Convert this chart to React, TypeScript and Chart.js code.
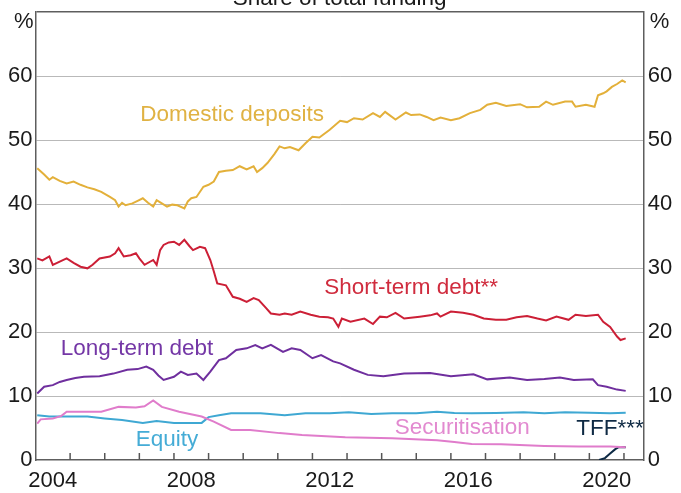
import React, { useEffect, useRef } from "react";
import { Chart, registerables } from "chart.js";

Chart.register(...registerables);

// ---------- DATA (decimal years, per cent of total funding) ----------
const depositsDates = [2004.05,2004.25,2004.4,2004.5,2004.7,2004.9,2005.1,2005.3,2005.5,2005.7,2005.9,2006.15,2006.3,2006.4,2006.5,2006.6,2006.8,2006.95,2007.1,2007.25,2007.4,2007.5,2007.65,2007.8,2007.95,2008.1,2008.3,2008.4,2008.5,2008.65,2008.85,2009.0,2009.15,2009.3,2009.5,2009.7,2009.9,2010.1,2010.3,2010.4,2010.55,2010.7,2010.9,2011.05,2011.2,2011.35,2011.6,2011.8,2012.0,2012.2,2012.5,2012.8,2013.0,2013.2,2013.45,2013.75,2013.95,2014.1,2014.4,2014.7,2014.85,2015.1,2015.3,2015.5,2015.7,2016.0,2016.25,2016.55,2016.85,2017.05,2017.3,2017.6,2018.0,2018.2,2018.55,2018.75,2018.95,2019.3,2019.5,2019.6,2019.9,2020.15,2020.25,2020.4,2020.5,2020.65,2020.8,2020.95,2021.05];
const depositsValues = [45.6,44.6,43.8,44.2,43.6,43.2,43.5,43.0,42.6,42.3,41.9,41.1,40.6,39.6,40.2,39.8,40.1,40.5,40.9,40.2,39.6,40.6,40.1,39.6,39.9,39.8,39.3,40.4,40.9,41.1,42.7,43.0,43.5,45.0,45.2,45.3,45.9,45.4,45.9,45.0,45.6,46.4,47.8,49.0,48.7,48.9,48.4,49.5,50.5,50.4,51.6,53.0,52.8,53.4,53.2,54.2,53.6,54.4,53.2,54.3,53.9,54.0,53.6,53.1,53.5,53.1,53.4,54.2,54.7,55.5,55.8,55.3,55.6,55.1,55.2,56.0,55.5,56.0,56.0,55.2,55.5,55.2,57.0,57.3,57.6,58.3,58.75,59.3,59.0];

const shortDates = [2004.05,2004.2,2004.4,2004.5,2004.7,2004.9,2005.1,2005.3,2005.5,2005.65,2005.85,2006.15,2006.3,2006.4,2006.55,2006.75,2006.9,2007.0,2007.15,2007.4,2007.5,2007.6,2007.7,2007.85,2008.0,2008.15,2008.3,2008.45,2008.55,2008.75,2008.9,2009.05,2009.15,2009.25,2009.5,2009.7,2009.9,2010.1,2010.3,2010.45,2010.65,2010.8,2011.05,2011.2,2011.4,2011.65,2011.95,2012.2,2012.45,2012.6,2012.75,2012.85,2013.1,2013.5,2013.75,2013.95,2014.15,2014.4,2014.65,2015.1,2015.4,2015.6,2015.7,2016.0,2016.35,2016.65,2016.95,2017.3,2017.6,2017.9,2018.2,2018.5,2018.75,2019.05,2019.4,2019.6,2019.9,2020.25,2020.4,2020.6,2020.8,2020.9,2021.05];
const shortValues = [31.5,31.2,31.8,30.5,31.0,31.5,30.8,30.2,29.95,30.5,31.5,31.8,32.3,33.1,31.8,32.0,32.3,31.5,30.5,31.25,30.5,32.8,33.6,34.0,34.1,33.6,34.4,33.4,32.8,33.3,33.1,31.25,29.5,27.6,27.3,25.5,25.2,24.7,25.3,25.0,23.8,22.9,22.7,22.9,22.7,23.2,22.7,22.4,22.3,22.1,20.8,22.1,21.6,22.1,21.25,22.4,22.3,23.0,22.1,22.4,22.6,22.9,22.4,23.2,23.0,22.7,22.1,21.9,21.9,22.3,22.5,22.1,21.8,22.4,21.9,22.7,22.5,22.7,21.6,20.8,19.3,18.75,19.0];

const longDates = [2004.05,2004.25,2004.5,2004.7,2004.9,2005.15,2005.4,2005.85,2006.25,2006.65,2006.95,2007.2,2007.4,2007.55,2007.7,2008.0,2008.2,2008.4,2008.65,2008.85,2009.05,2009.3,2009.5,2009.8,2010.1,2010.35,2010.55,2010.8,2011.15,2011.4,2011.65,2012.0,2012.25,2012.6,2012.8,2013.2,2013.6,2014.05,2014.65,2015.4,2016.0,2016.65,2017.05,2017.7,2018.2,2018.7,2019.15,2019.55,2020.1,2020.25,2020.5,2020.8,2021.05];
const longValues = [10.4,11.45,11.7,12.2,12.5,12.8,13.0,13.1,13.5,14.1,14.2,14.6,14.1,13.2,12.5,13.0,13.8,13.3,13.5,12.5,13.8,15.6,15.9,17.2,17.45,17.97,17.45,18.0,16.9,17.45,17.2,15.9,16.4,15.4,15.1,14.1,13.3,13.1,13.5,13.6,13.1,13.4,12.6,12.9,12.5,12.65,12.9,12.5,12.6,11.7,11.45,11.0,10.8];

const equityDates = [2004.05,2004.4,2004.9,2005.5,2006.0,2006.5,2007.1,2007.5,2008.0,2008.5,2008.8,2009.0,2009.3,2009.65,2010.5,2011.2,2011.8,2012.5,2013.05,2013.7,2014.3,2015.0,2015.6,2016.1,2016.6,2017.3,2018.1,2018.7,2019.3,2020.0,2020.6,2021.05];
const equityValues = [7.0,6.8,6.8,6.8,6.5,6.25,5.8,6.1,5.8,5.8,5.8,6.7,7.0,7.3,7.3,7.0,7.3,7.3,7.45,7.2,7.3,7.3,7.55,7.35,7.3,7.35,7.45,7.3,7.45,7.4,7.3,7.4];

const securDates = [2004.05,2004.15,2004.5,2004.75,2004.9,2005.4,2005.9,2006.4,2006.9,2007.15,2007.4,2007.65,2008.15,2008.8,2009.15,2009.65,2010.2,2011.05,2011.7,2012.95,2014.3,2015.6,2016.1,2016.6,2017.45,2018.7,2019.7,2020.6,2021.05];
const securValues = [5.7,6.35,6.5,6.9,7.55,7.55,7.55,8.3,8.2,8.4,9.3,8.3,7.55,6.8,6.0,4.7,4.7,4.2,3.9,3.55,3.4,3.1,2.8,2.5,2.45,2.2,2.1,2.1,2.0];

const tffDates = [2020.28,2020.45,2020.6,2020.75,2020.85,2021.05];
const tffValues = [0,0.3,1.0,1.7,2.0,2.0];

const yearLabels = [2004, 2008, 2012, 2016, 2020];
const minorTickYears = [2005,2006,2007,2008,2009,2010,2011,2012,2013,2014,2015,2016,2017,2018,2019,2020,2021];

const seriesLabels = [
  { text: "Domestic deposits", x: 2009.68, y: 53.9, color: "#e0b243" },
  { text: "Short-term debt**", x: 2014.85, y: 26.9, color: "#d02c3e" },
  { text: "Long-term debt", x: 2006.93, y: 17.3, color: "#7437a6" },
  { text: "Equity", x: 2007.8, y: 3.1, color: "#45acd6" },
  { text: "Securitisation", x: 2016.33, y: 5.0, color: "#e28ad0" },
  { text: "TFF***", x: 2020.6, y: 4.85, color: "#0f2a44" },
];

const FONT = '"Liberation Sans", Arial, sans-serif';

const toPts = (d: number[], v: number[]) => d.map((x, i) => ({ x, y: v[i] }));

const overlay = {
  id: "overlay",
  afterDraw(chart: any) {
    const { ctx, chartArea, scales } = chart;
    const xs = scales.x;
    const ys = scales.y;
    ctx.save();
    // minor year ticks, pointing into the plot
    ctx.strokeStyle = "#555";
    ctx.lineWidth = 1.5;
    minorTickYears.forEach((yr) => {
      const px = xs.getPixelForValue(yr);
      ctx.beginPath();
      ctx.moveTo(px, chartArea.bottom);
      ctx.lineTo(px, chartArea.bottom - 7);
      ctx.stroke();
    });
    // title (partly cut at top)
    ctx.fillStyle = "#1a1a1a";
    ctx.font = `22.5px ${FONT}`;
    ctx.textAlign = "center";
    ctx.textBaseline = "alphabetic";
    ctx.fillText("Share of total funding", (chartArea.left + chartArea.right) / 2, 4.5);
    // % units
    ctx.font = `22px ${FONT}`;
    ctx.textBaseline = "middle";
    ctx.textAlign = "right";
    ctx.fillText("%", chartArea.left - 2, 22);
    ctx.textAlign = "left";
    ctx.fillText("%", chartArea.right + 6, 22);
    // series labels
    ctx.font = `22.5px ${FONT}`;
    ctx.textAlign = "center";
    seriesLabels.forEach((l) => {
      ctx.fillStyle = l.color;
      ctx.fillText(l.text, xs.getPixelForValue(l.x), ys.getPixelForValue(l.y));
    });
    ctx.restore();
  },
};

export default function App() {
  const ref = useRef<HTMLCanvasElement>(null);
  useEffect(() => {
    if (!ref.current) return;
    const ds = (label: string, d: number[], v: number[], color: string) => ({
      label,
      data: toPts(d, v),
      borderColor: color,
      backgroundColor: color,
      borderWidth: 2,
      pointRadius: 0,
      tension: 0,
      fill: false,
      yAxisID: "y",
    });
    const chart = new Chart(ref.current, {
      type: "line",
      data: {
        datasets: [
          ds("Securitisation", securDates, securValues, "#e07ccb"),
          ds("Equity", equityDates, equityValues, "#3fa8d3"),
          ds("TFF", tffDates, tffValues, "#0d2a45"),
          ds("Long-term debt", longDates, longValues, "#6f2f9e"),
          ds("Short-term debt", shortDates, shortValues, "#cc1f36"),
          ds("Domestic deposits", depositsDates, depositsValues, "#e3b03a"),
        ],
      },
      options: {
        responsive: false,
        animation: false,
        layout: { padding: { top: 12, left: 0, right: 0, bottom: 0 } },
        plugins: { legend: { display: false }, tooltip: { enabled: false }, title: { display: false } },
        scales: {
          x: {
            type: "linear",
            min: 2004,
            max: 2021.57,
            afterFit: (s: any) => { s.height = 33; s.paddingLeft = 0; s.paddingRight = 0; },
            afterBuildTicks: (s: any) => { s.ticks = yearLabels.map((y) => ({ value: y + 0.5 })); },
            ticks: {
              autoSkip: false,
              maxRotation: 0,
              padding: 8,
              color: "#1a1a1a",
              font: { family: FONT, size: 22 },
              callback: (v: any) => String(Math.floor(Number(v))),
            },
            grid: { display: false, drawTicks: false },
            border: { display: true, color: "#5e5e5e", width: 1.5 },
          },
          y: {
            position: "left",
            min: 0,
            max: 70,
            afterFit: (s: any) => { s.width = 35.5; s.paddingTop = 0; s.paddingBottom = 0; },
            ticks: {
              stepSize: 10,
              padding: 3,
              color: "#1a1a1a",
              font: { family: FONT, size: 22 },
              callback: (v: any) => (v === 70 ? "" : String(v)),
            },
            grid: {
              drawTicks: false,
              color: (c: any) => (c.tick.value === 70 ? "#5e5e5e" : c.tick.value === 0 ? "rgba(0,0,0,0)" : "#b9b9b9"),
              lineWidth: (c: any) => (c.tick.value === 70 ? 1.5 : 1),
            },
            border: { display: true, color: "#5e5e5e", width: 1.5 },
          },
          y2: {
            position: "right",
            min: 0,
            max: 70,
            afterFit: (s: any) => { s.width = 37.3; s.paddingTop = 0; s.paddingBottom = 0; },
            ticks: {
              stepSize: 10,
              padding: 4,
              color: "#1a1a1a",
              font: { family: FONT, size: 22 },
              callback: (v: any) => (v === 70 ? "" : String(v)),
            },
            grid: { display: false, drawTicks: false },
            border: { display: true, color: "#5e5e5e", width: 1.5 },
          },
        },
      } as any,
      plugins: [overlay],
    });
    return () => chart.destroy();
  }, []);
  return (
    <div style={{ position: "absolute", left: 0, top: 0, width: 681, height: 493, background: "#fff" }}>
      <canvas ref={ref} width={681} height={493} />
    </div>
  );
}
